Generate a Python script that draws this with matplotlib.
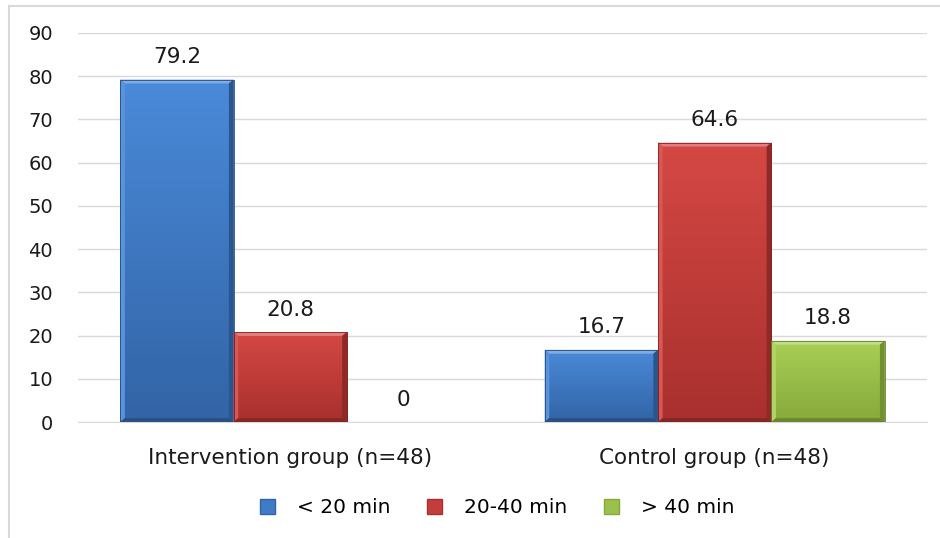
import numpy as np
import matplotlib.pyplot as plt
from matplotlib.patches import Polygon, Patch
from matplotlib.lines import Line2D
from matplotlib.colors import to_rgb

# ------------------------------------------------------------
# Data
# ------------------------------------------------------------
groups = ["Intervention group (n=48)", "Control group (n=48)"]
series = ["< 20 min", "20-40 min", "> 40 min"]
values = {
    "< 20 min": [79.2, 16.7],
    "20-40 min": [20.8, 64.6],
    "> 40 min": [0, 18.8],
}
yticks = [0, 10, 20, 30, 40, 50, 60, 70, 80, 90]

# top / bottom shades for each series
shades = {
    "< 20 min": ("#4a8ad9", "#3264a6"),
    "20-40 min": ("#d54844", "#a8302e"),
    "> 40 min": ("#a9cf56", "#86a93a"),
}

plt.rcParams["font.family"] = "DejaVu Sans"

fig = plt.figure(figsize=(9.4, 5.38), dpi=100)
ax = fig.add_axes([0.083, 0.2156, 0.903, 0.7234])

width = 0.267
x = np.arange(len(groups))
ax.set_xlim(-0.5, 1.5)
ax.set_ylim(0, 90)


def mix(c, other, t):
    c, other = np.array(to_rgb(c)), np.array(to_rgb(other))
    return tuple(c * (1 - t) + other * t)


def bevel_bar(x0, h, top, bottom):
    if h <= 0:
        return
    x1 = x0 + width
    # vertical gradient body, light at the top
    grad = np.linspace(0, 1, 64)[:, None]
    c0, c1 = np.array(to_rgb(top)), np.array(to_rgb(bottom))
    img = c0 * (1 - grad[..., None]) + c1 * grad[..., None]
    im = ax.imshow(img, extent=(x0, x1, 0, h), origin="upper", aspect="auto",
                   zorder=2, interpolation="bilinear")
    rect = plt.Rectangle((x0, 0), width, h, transform=ax.transData)
    im.set_clip_path(rect)
    bx, by = 0.011, min(0.9, h / 3)
    # bevel faces
    faces = [
        ([(x0, h), (x1, h), (x1 - bx, h - by), (x0 + bx, h - by)], mix(top, "white", 0.3)),
        ([(x0, 0), (x0, h), (x0 + bx, h - by), (x0 + bx, by)], mix(top, "white", 0.08)),
        ([(x1, 0), (x1, h), (x1 - bx, h - by), (x1 - bx, by)], mix(bottom, "black", 0.15)),
        ([(x0, 0), (x1, 0), (x1 - bx, by), (x0 + bx, by)], mix(bottom, "black", 0.2)),
    ]
    for pts, col in faces:
        ax.add_patch(Polygon(pts, closed=True, facecolor=col, edgecolor="none", zorder=3))
    ax.add_patch(plt.Rectangle((x0, 0), width, h, fill=False,
                               edgecolor=mix(bottom, "black", 0.25), lw=0.6, zorder=4))


handles = []
for i, name in enumerate(series):
    top, bottom = shades[name]
    offs = (i - 1) * width
    for xi, v in zip(x, values[name]):
        x0 = xi + offs - width / 2
        bevel_bar(x0, v, top, bottom)
        ax.annotate(f"{v:g}", (xi + offs, v), xytext=(0, 9), textcoords="offset points",
                    ha="center", va="bottom", fontsize=15.5, color="#1a1a1a")
    handles.append(Patch(facecolor=mix(top, bottom, 0.4), edgecolor=bottom, label=name))

# axes styling
ax.set_yticks(yticks)
ax.set_xticks(x)
ax.set_xticklabels(groups, fontsize=15.5)
ax.tick_params(axis="both", length=0, colors="#1a1a1a")
ax.tick_params(axis="y", pad=18, labelsize=14)
ax.tick_params(axis="x", pad=19)
ax.grid(axis="y", color="#d9d9d9", lw=1)
ax.set_axisbelow(True)
for s in ["top", "right", "left"]:
    ax.spines[s].set_visible(False)
ax.spines["bottom"].set_color("#d9d9d9")

fig.legend(handles=handles, loc="center", bbox_to_anchor=(0.529, 0.056), ncol=3,
           frameon=False, fontsize=14.5, handlelength=0.75, handleheight=0.75,
           columnspacing=1.8, handletextpad=1.1)

# chart border (left and top edges)
fig.add_artist(Line2D([0.0096, 0.0096], [0, 0.988], color="#d9d9d9", lw=1.5))
fig.add_artist(Line2D([0.0096, 1.0], [0.988, 0.988], color="#d9d9d9", lw=1.5))

fig.savefig("out.png", dpi=100)
